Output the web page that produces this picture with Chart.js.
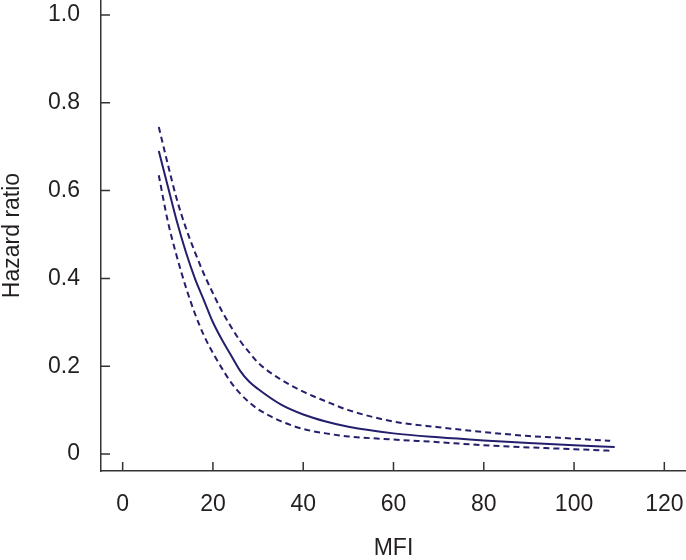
<!DOCTYPE html>
<html>
<head>
<meta charset="utf-8">
<script src="https://cdn.jsdelivr.net/npm/chart.js@4"></script>
<style>
  body { margin: 0; background: #fff; }
  canvas { display: block; }
</style>
</head>
<body>
<canvas id="hrChart" width="686" height="560"></canvas>
<script>
// MFI values for the fitted curve and for the confidence band
const mfiFit = [8, 10, 12, 14, 16, 18, 20, 22, 24, 26, 28, 30, 35, 40, 45, 50, 60, 70, 80, 90, 100, 109];
const hrFit  = [0.69, 0.61, 0.53, 0.46, 0.40, 0.35, 0.30, 0.26, 0.225, 0.19, 0.165, 0.148, 0.113, 0.09, 0.074, 0.062, 0.047, 0.038, 0.031, 0.025, 0.020, 0.016];

const mfiCI   = [8, 10, 12, 14, 16, 18, 20, 22, 24, 26, 28, 30, 35, 40, 45, 50, 60, 70, 80, 90, 100, 108];
const hrUpper = [0.745, 0.66, 0.58, 0.515, 0.46, 0.41, 0.366, 0.325, 0.29, 0.258, 0.232, 0.208, 0.17, 0.142, 0.12, 0.10, 0.074, 0.061, 0.050, 0.041, 0.035, 0.030];
const hrLower = [0.635, 0.53, 0.45, 0.38, 0.32, 0.27, 0.23, 0.195, 0.163, 0.138, 0.118, 0.102, 0.075, 0.057, 0.047, 0.040, 0.033, 0.027, 0.020, 0.015, 0.011, 0.0075];

const xTicks = [0, 20, 40, 60, 80, 100, 120];
const xTickLabels = ['0', '20', '40', '60', '80', '100', '120'];
const yTicks = [0, 0.2, 0.4, 0.6, 0.8, 1.0];
const yTickLabels = ['0', '0.2', '0.4', '0.6', '0.8', '1.0'];

const navy = '#241f6c';
const axisColor = '#333333';
const textColor = '#231f20';

const toPoints = (xs, ys) => xs.map((x, i) => ({ x: x, y: ys[i] }));

// ticks in this chart point into the plot area
const inwardTicks = {
  id: 'inwardTicks',
  afterDraw(chart) {
    const ctx = chart.ctx;
    const xs = chart.scales.x, ys = chart.scales.y;
    const area = chart.chartArea;
    ctx.save();
    ctx.strokeStyle = axisColor;
    ctx.lineWidth = 1.5;
    ctx.beginPath();
    xTicks.forEach(v => {
      const px = xs.getPixelForValue(v);
      ctx.moveTo(px, area.bottom);
      ctx.lineTo(px, area.bottom - 9);
    });
    yTicks.forEach(v => {
      const py = ys.getPixelForValue(v);
      ctx.moveTo(area.left, py);
      ctx.lineTo(area.left + 9, py);
    });
    ctx.stroke();
    ctx.restore();
  }
};

// plot area runs right up to the top and right edges
const noEdgePadding = s => {
  s.paddingTop = 0;
  s.paddingBottom = 0;
  s.paddingLeft = 0;
  s.paddingRight = 0;
};

Chart.defaults.font.family = '"Liberation Sans", Arial, sans-serif';
Chart.defaults.color = textColor;

new Chart(document.getElementById('hrChart'), {
  type: 'line',
  data: {
    datasets: [
      {
        label: 'HR',
        data: toPoints(mfiFit, hrFit),
        borderColor: navy,
        borderWidth: 2,
        pointRadius: 0,
        cubicInterpolationMode: 'monotone'
      },
      {
        label: 'Upper',
        data: toPoints(mfiCI, hrUpper),
        borderColor: navy,
        borderWidth: 2,
        borderDash: [6, 4],
        pointRadius: 0,
        cubicInterpolationMode: 'monotone'
      },
      {
        label: 'Lower',
        data: toPoints(mfiCI, hrLower),
        borderColor: navy,
        borderWidth: 2,
        borderDash: [6, 4],
        pointRadius: 0,
        cubicInterpolationMode: 'monotone'
      }
    ]
  },
  options: {
    responsive: false,
    animation: false,
    layout: { padding: 0 },
    plugins: {
      legend: { display: false },
      tooltip: { enabled: false }
    },
    scales: {
      x: {
        type: 'linear',
        min: -4.8,
        max: 124.8,
        afterFit: s => { s.height = 89; noEdgePadding(s); },
        afterBuildTicks: s => { s.ticks = xTicks.map(v => ({ value: v })); },
        grid: { display: false, drawTicks: false },
        border: { display: true, color: axisColor, width: 1.5 },
        ticks: {
          padding: 20,
          maxRotation: 0,
          font: { size: 23 },
          callback: (v, i) => xTickLabels[i]
        },
        title: {
          display: true,
          text: 'MFI',
          font: { size: 23, lineHeight: 1 },
          padding: 0
        }
      },
      y: {
        type: 'linear',
        min: -0.0387,
        max: 1.034,
        afterFit: s => { s.width = 101; noEdgePadding(s); },
        afterBuildTicks: s => { s.ticks = yTicks.map(v => ({ value: v })); },
        grid: { display: false, drawTicks: false },
        border: { display: true, color: axisColor, width: 1.5 },
        ticks: {
          padding: 21,
          font: { size: 23 },
          callback: (v, i) => yTickLabels[i]
        },
        title: {
          display: true,
          text: 'Hazard ratio',
          font: { size: 23, lineHeight: 1.1 },
          padding: 0
        }
      }
    }
  },
  plugins: [inwardTicks]
});
</script>
</body>
</html>
